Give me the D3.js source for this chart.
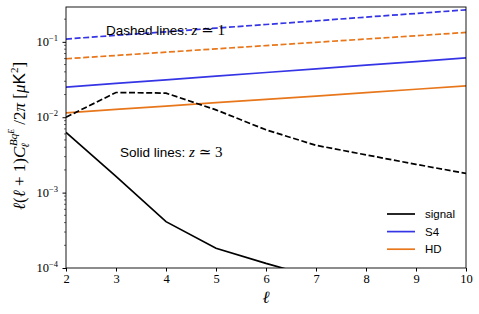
<!DOCTYPE html>
<html>
<head>
<meta charset="utf-8">
<script src="https://cdn.jsdelivr.net/npm/d3@7"></script>
<style>
  body { margin: 0; background: #fff; }
</style>
</head>
<body>
<div id="chart"></div>
<script>
// multipoles
const ells = [2, 3, 4, 5, 6, 7, 8, 9, 10];

// z ~ 3 (solid)
const signalSolid = [0.0063, 0.00164, 0.000412, 0.000183, 0.000115, 0.000075, 0.000052, 0.000038, 0.000028];
const s4Solid     = [0.0251, 0.0281, 0.0314, 0.0351, 0.0392, 0.0438, 0.0490, 0.0548, 0.0613];
const hdSolid     = [0.0114, 0.0127, 0.0140, 0.0156, 0.0173, 0.0191, 0.0212, 0.0235, 0.0261];

// z ~ 1 (dashed)
const signalDashed = [0.0100, 0.0213, 0.0209, 0.01253, 0.00681, 0.00424, 0.00317, 0.00237, 0.00180];
const s4Dashed     = [0.109, 0.122, 0.136, 0.152, 0.170, 0.190, 0.213, 0.238, 0.266];
const hdDashed     = [0.0597, 0.0660, 0.0730, 0.0807, 0.0892, 0.0986, 0.1090, 0.1205, 0.1333];

const xTicks = [2, 3, 4, 5, 6, 7, 8, 9, 10];
const yTicks = [1e-4, 1e-3, 1e-2, 1e-1];
const yTickExp = ["\u22124", "\u22123", "\u22122", "\u22121"];

const legendNames = ["signal", "S4", "HD"];
const colors = { signal: "#000000", S4: "#3535e6", HD: "#e8771c" };

const SERIF = "'Liberation Serif', 'DejaVu Serif', serif";
const SANS = "'Liberation Sans', 'DejaVu Sans', sans-serif";

const W = 479, H = 314;
const margin = {top: 7, right: 13, bottom: 46, left: 66},
      width = W - margin.left - margin.right,
      height = H - margin.top - margin.bottom;

const svg = d3.select("#chart").append("svg")
    .attr("width", W)
    .attr("height", H);

const g = svg.append("g")
    .attr("transform", `translate(${margin.left},${margin.top})`);

const x = d3.scaleLinear().domain([2, 10]).range([0, width]);
const y = d3.scaleLog().domain([1e-4, 0.29]).range([height, 0]);

// clip lines to plot area
svg.append("defs").append("clipPath").attr("id", "clip")
  .append("rect").attr("width", width).attr("height", height);

const line = d3.line()
    .x(d => x(d[0]))
    .y(d => y(d[1]));

const dash = "6,2.6";
const series = [
    {vals: signalSolid, color: colors.signal, dash: null},
    {vals: s4Solid, color: colors.S4, dash: null},
    {vals: hdSolid, color: colors.HD, dash: null},
    {vals: signalDashed, color: colors.signal, dash: dash},
    {vals: s4Dashed, color: colors.S4, dash: dash},
    {vals: hdDashed, color: colors.HD, dash: dash}
];

const plot = g.append("g").attr("clip-path", "url(#clip)");
series.forEach(s => {
    plot.append("path")
        .datum(ells.map((l, i) => [l, s.vals[i]]))
        .attr("fill", "none")
        .attr("stroke", s.color)
        .attr("stroke-width", 1.7)
        .attr("stroke-dasharray", s.dash)
        .attr("d", line);
});

// x axis
const xAxis = g.append("g")
    .attr("transform", `translate(0,${height})`)
    .call(d3.axisBottom(x).tickValues(xTicks).tickFormat(d3.format("d")).tickSizeOuter(0).tickSize(3.5).tickPadding(3));
xAxis.attr("font-family", SERIF);
xAxis.selectAll("text").attr("font-size", 12.5).attr("fill", "#000");
xAxis.select(".domain").remove();

// y axis minor ticks
const minor = [];
for (let e = -4; e <= -1; e++) {
    for (let m = 2; m <= 9; m++) {
        const v = m * Math.pow(10, e);
        if (v <= 0.29) minor.push(v);
    }
}
g.append("g").selectAll("line").data(minor).join("line")
    .attr("x1", -2).attr("x2", 0)
    .attr("y1", d => y(d)).attr("y2", d => y(d))
    .attr("stroke", "#000").attr("stroke-width", 0.6);

// y axis major ticks
const yAxis = g.append("g")
    .call(d3.axisLeft(y).tickValues(yTicks).tickFormat("").tickSize(3.5).tickSizeOuter(0));
yAxis.select(".domain").remove();

yTicks.forEach((t, i) => {
    const txt = g.append("text")
        .attr("font-family", SERIF)
        .attr("x", -8)
        .attr("y", y(t) + 4)
        .attr("text-anchor", "end")
        .attr("font-size", 12.5);
    txt.append("tspan").text("10");
    txt.append("tspan").attr("font-size", 8.5).attr("dy", -5).text(yTickExp[i]);
});

// frame
g.append("rect")
    .attr("width", width).attr("height", height)
    .attr("fill", "none").attr("stroke", "#000").attr("stroke-width", 0.9);

// annotations
const ann = [
    {label: "Dashed lines: ", z: "1", x: 106, y: 35},
    {label: "Solid lines: ", z: "3", x: 120, y: 157}
];
ann.forEach(a => {
    const t = svg.append("text").attr("x", a.x).attr("y", a.y).attr("font-size", 13.5);
    t.append("tspan").attr("font-family", SANS).text(a.label);
    t.append("tspan").attr("font-family", SERIF).attr("font-style", "italic").attr("font-size", 15).text("z");
    t.append("tspan").attr("font-family", SERIF).attr("font-size", 15).text(" \u2243 " + a.z);
});

// legend
const leg = svg.append("g").attr("transform", "translate(387,214)");
legendNames.forEach((n, i) => {
    leg.append("line")
        .attr("x1", 0).attr("x2", 28)
        .attr("y1", i * 17.6).attr("y2", i * 17.6)
        .attr("stroke", colors[n]).attr("stroke-width", 1.7);
    leg.append("text")
        .attr("font-family", SANS)
        .attr("x", 38).attr("y", i * 17.6 + 4)
        .attr("font-size", 11.5)
        .text(n);
});

// axis labels
svg.append("text")
    .attr("font-family", SERIF)
    .attr("x", margin.left + width / 2)
    .attr("y", 303)
    .attr("text-anchor", "middle")
    .attr("font-size", 17)
    .attr("font-style", "italic")
    .text("\u2113");

const yl = svg.append("text")
    .attr("font-family", SERIF)
    .attr("transform", "translate(25,136) rotate(-90)")
    .attr("text-anchor", "middle")
    .attr("font-size", 17);
yl.append("tspan").attr("font-style", "italic").text("\u2113");
yl.append("tspan").text("(");
yl.append("tspan").attr("font-style", "italic").text("\u2113");
yl.append("tspan").text(" + 1)");
yl.append("tspan").attr("font-style", "italic").text("C");
yl.append("tspan").attr("font-style", "italic").attr("font-size", 11).attr("dy", 4).attr("dx", -1).text("\u2113");
yl.append("tspan").attr("font-style", "italic").attr("font-size", 11).attr("dy", -12).attr("dx", -3).text("Bq");
yl.append("tspan").attr("font-style", "italic").attr("font-size", 8).attr("dy", -3).text("E");
yl.append("tspan").attr("dy", 11).text(" /2");
yl.append("tspan").attr("font-style", "italic").text("\u03c0");
yl.append("tspan").text("  [");
yl.append("tspan").attr("font-style", "italic").text("\u03bc");
yl.append("tspan").attr("font-family", SANS).text("K");
yl.append("tspan").attr("font-size", 11).attr("dy", -7).text("2");
yl.append("tspan").attr("dy", 7).text("]");
</script>
</body>
</html>
